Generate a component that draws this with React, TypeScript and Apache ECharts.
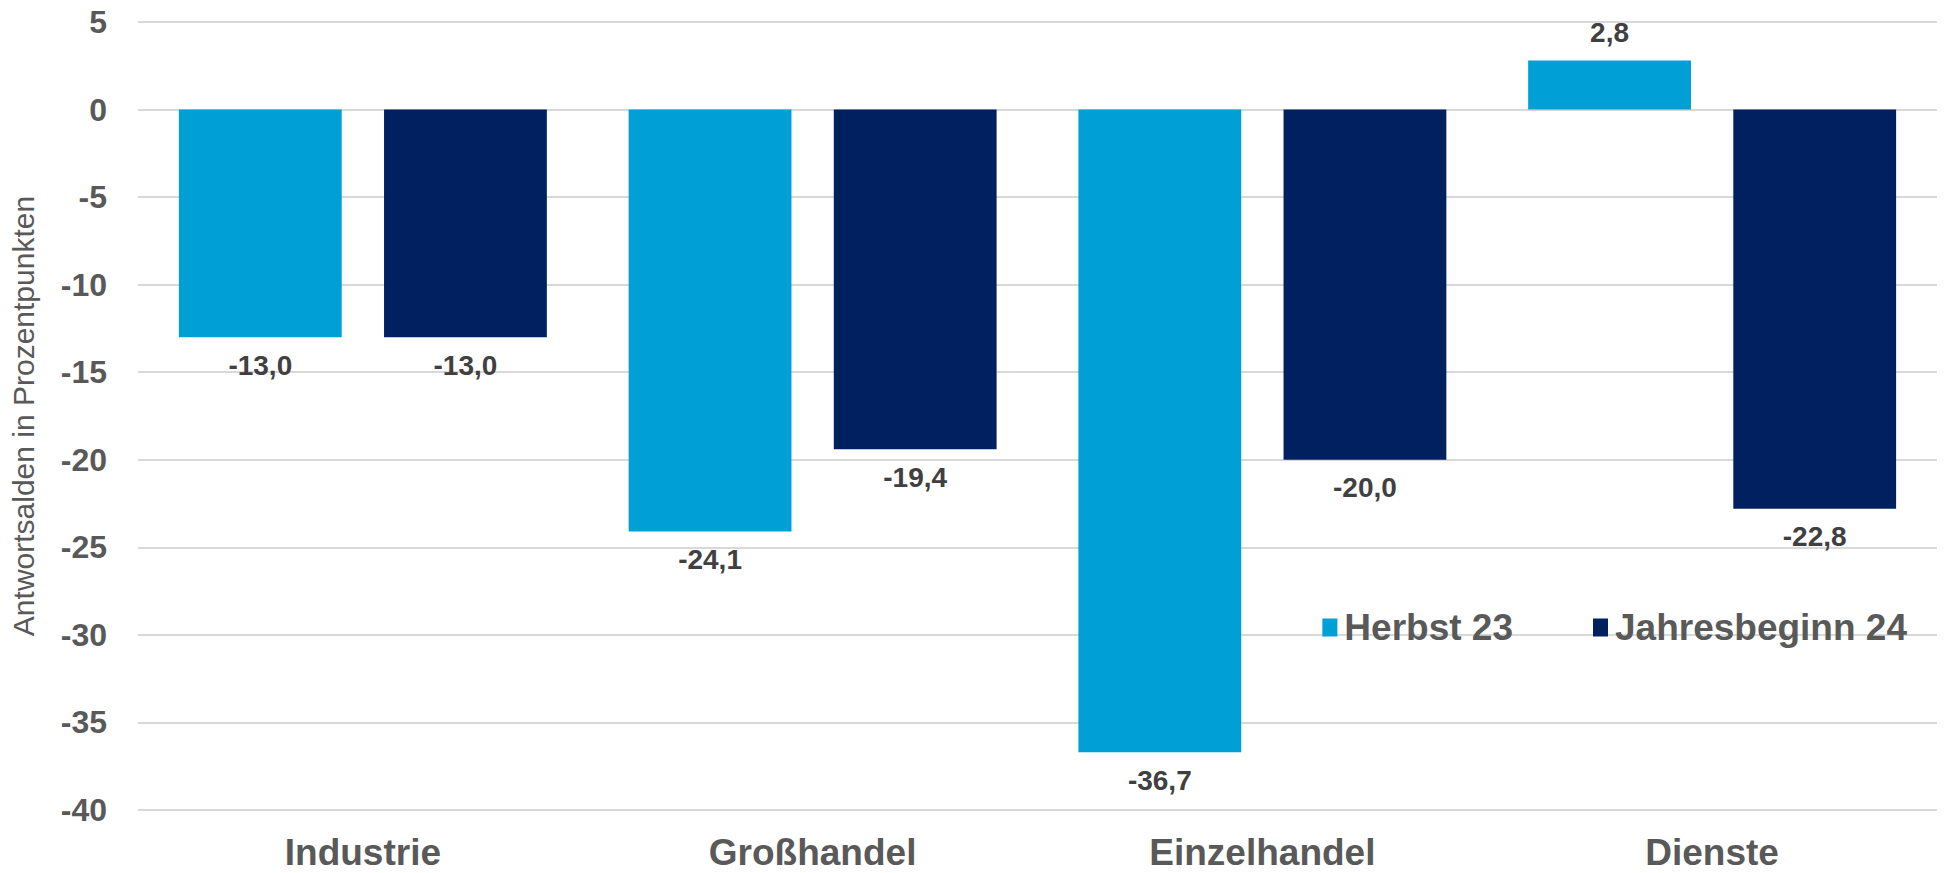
import React, { useEffect, useRef } from "react";
import * as echarts from "echarts";

const categories = ["Industrie", "Großhandel", "Einzelhandel", "Dienste"];
const herbst23 = [-13.0, -24.1, -36.7, 2.8];
const jahresbeginn24 = [-13.0, -19.4, -20.0, -22.8];
const seriesNames = ["Herbst 23", "Jahresbeginn 24"];
const yAxisName = "Antwortsalden in Prozentpunkten";

const LIGHT = "#009fd6";
const DARK = "#002060";
const FONT = "'Liberation Sans', Arial, Helvetica, sans-serif";

const fmt = (v: number) => v.toFixed(1).replace(".", ",");

const makeData = (vals: number[]) =>
  vals.map((v) => ({
    value: v,
    label: { position: v >= 0 ? "top" : "bottom" },
  }));

export default function App() {
  const ref = useRef<HTMLDivElement>(null);
  useEffect(() => {
    document.body.style.margin = "0";
    if (!ref.current) return;
    const chart = echarts.init(ref.current, undefined, { renderer: "svg" });
    const label = {
      show: true,
      distance: 14,
      fontFamily: FONT,
      fontWeight: "bold",
      fontSize: 28,
      color: "#404040",
      formatter: (p: any) => fmt(p.value),
    };
    chart.setOption({
      animation: false,
      backgroundColor: "#ffffff",
      textStyle: { fontFamily: FONT },
      grid: { left: 133, right: 9, top: 22, bottom: 63 },
      legend: {
        data: seriesNames,
        right: 34,
        top: 604,
        itemWidth: 15,
        itemHeight: 18,
        itemGap: 80,
        icon: "rect",
        textStyle: {
          fontFamily: FONT,
          fontWeight: "bold",
          fontSize: 37,
          color: "#595959",
          padding: [0, 0, 0, 2],
        },
      },
      xAxis: {
        type: "category",
        data: categories,
        axisLine: { show: false },
        axisTick: { show: false },
        axisLabel: {
          margin: 24,
          fontFamily: FONT,
          fontWeight: "bold",
          fontSize: 37,
          color: "#595959",
        },
      },
      yAxis: {
        type: "value",
        min: -40,
        max: 5,
        interval: 5,
        name: yAxisName,
        nameLocation: "middle",
        nameGap: 100,
        nameTextStyle: {
          fontFamily: FONT,
          fontSize: 30,
          color: "#595959",
        },
        axisLine: { show: false },
        axisTick: { show: false },
        axisLabel: {
          margin: 31,
          fontFamily: FONT,
          fontWeight: "bold",
          fontSize: 32,
          color: "#595959",
        },
        splitLine: { lineStyle: { color: "#d9d9d9", width: 2 } },
      },
      series: [
        {
          name: seriesNames[0],
          type: "bar",
          data: makeData(herbst23),
          barWidth: "36.2%",
          barGap: "26%",
          itemStyle: { color: LIGHT },
          label,
        },
        {
          name: seriesNames[1],
          type: "bar",
          data: makeData(jahresbeginn24),
          barWidth: "36.2%",
          barGap: "26%",
          itemStyle: { color: DARK },
          label,
        },
      ],
    });
    return () => chart.dispose();
  }, []);
  return <div ref={ref} style={{ position: "absolute", left: 0, top: 0, width: 1946, height: 873 }} />;
}
